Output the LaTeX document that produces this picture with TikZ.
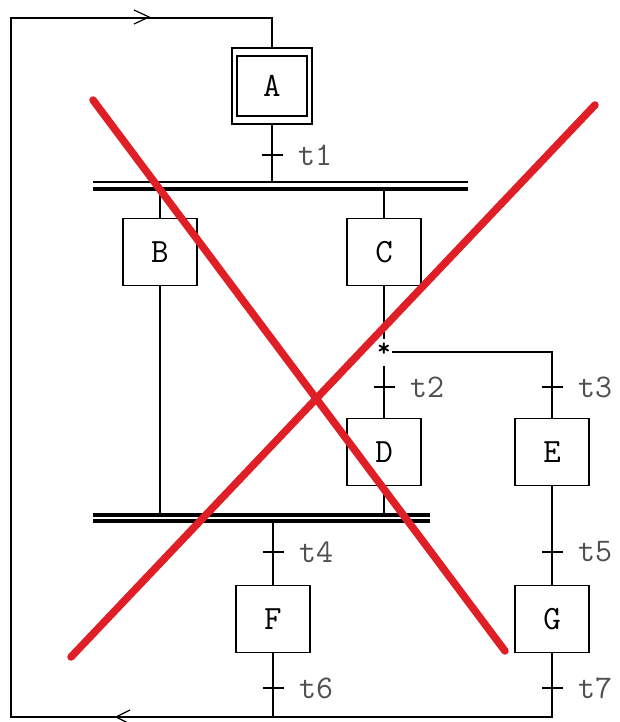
\documentclass[tikz,border=0pt]{standalone}
\usepackage{fontspec}
\definecolor{xred}{RGB}{224,30,38}
\definecolor{lblgray}{RGB}{80,80,80}
\begin{document}
\begin{tikzpicture}[x=1pt,y=-1pt,
  stepbox/.style={draw, line width=1.2pt, minimum width=74pt, minimum height=67pt, inner sep=0pt, font=\ttfamily\fontsize{34}{34}\selectfont},
  tick/.style={fill=black, draw=none, minimum width=21pt, minimum height=2.4pt, inner sep=0pt},
  lbl/.style={anchor=west, inner sep=0pt, text=lblgray, font=\ttfamily\fontsize{33}{33}\selectfont},
  wire/.style={line width=1.2pt},
  bar/.style={line width=3.6pt},
  thinbar/.style={line width=1.6pt},
  cross/.style={xred, line width=7.5pt, line cap=round}]
\useasboundingbox (0,0) rectangle (620,722);
% steps
\node[draw, line width=1.8pt, minimum width=80pt, minimum height=76pt, inner sep=0pt] (A0) at (272,86) {};
\node[stepbox, line width=1.8pt, minimum width=70pt, minimum height=60pt] (A) at (272,86) {A};
\node[stepbox] (B) at (160,252) {B};
\node[stepbox] (C) at (384,252) {C};
\node[stepbox] (D) at (384,452) {D};
\node[stepbox] (E) at (552,452) {E};
\node[stepbox] (F) at (273,619) {F};
\node[stepbox] (G) at (552,619) {G};
% transitions
\node[tick] (t1) at (272,155) {}; \node[lbl] at (298,155) {t1};
\node[tick] (t2) at (384,387) {}; \node[lbl] at (410,387) {t2};
\node[tick] (t3) at (552,387) {}; \node[lbl] at (578,387) {t3};
\node[tick] (t4) at (273,552) {}; \node[lbl] at (299,552) {t4};
\node[tick] (t5) at (552,552) {}; \node[lbl] at (578,552) {t5};
\node[tick] (t6) at (273,688) {}; \node[lbl] at (299,688) {t6};
\node[tick] (t7) at (552,688) {}; \node[lbl] at (578,688) {t7};
% bars
\coordinate (b1a) at (93,182); \coordinate (b1b) at (468,182);
\coordinate (b1c) at (93,189); \coordinate (b1d) at (468,189);
\draw[thinbar] (b1a) -- (b1b);
\draw[bar] (b1c) -- (b1d);
\coordinate (b2a) at (93,515); \coordinate (b2b) at (430,515);
\coordinate (b2c) at (93,521); \coordinate (b2d) at (430,521);
\draw[bar] (b2a) -- (b2b);
\draw[bar] (b2c) -- (b2d);
% star junction
\node[inner sep=0pt, font=\ttfamily\bfseries\fontsize{26}{26}\selectfont] (star) at (384,350) {*};
\coordinate (sel) at (392,352);
\coordinate (selE) at (552,352);
\coordinate (below) at (384,366);
% loop corners
\coordinate (c1) at (272,18); \coordinate (c2) at (11,18);
\coordinate (c3) at (11,717); \coordinate (c4) at (552,717);
\coordinate (c5) at (273,717);
% wiring
\draw[wire] (G.south) -- (t7) -- (c4) -- (c3) -- (c2) -- (c1) -- (A0.north);
\draw[wire] (F.south) -- (t6) -- (c5);
\draw[wire] (A0.south) -- (t1) -- (272,182);
\draw[wire] (160,189) -- (B.north);
\draw[wire] (384,189) -- (C.north);
\draw[wire] (B.south) -- (160,515);
\draw[wire] (C.south) -- (384,339);
\draw[wire] (sel) -- (selE) -- (t3) -- (E.north);
\draw[wire] (below) -- (t2) -- (D.north);
\draw[wire] (D.south) -- (384,515);
\draw[wire] (273,521) -- (t4) -- (F.north);
\draw[wire] (E.south) -- (t5) -- (G.north);
% arrow chevrons
\draw[wire] (134,10) -- (149,17) -- (134,24);
\draw[line width=2.4pt] (113,18) -- (134,18);
\draw[wire] (130,710) -- (116,717) -- (130,724);
\draw[line width=2.4pt] (80,717) -- (96,717);
% red cross
\draw[cross] (93,100) -- (505,651);
\draw[cross] (595,105) -- (71,657);
\end{tikzpicture}
\end{document}
